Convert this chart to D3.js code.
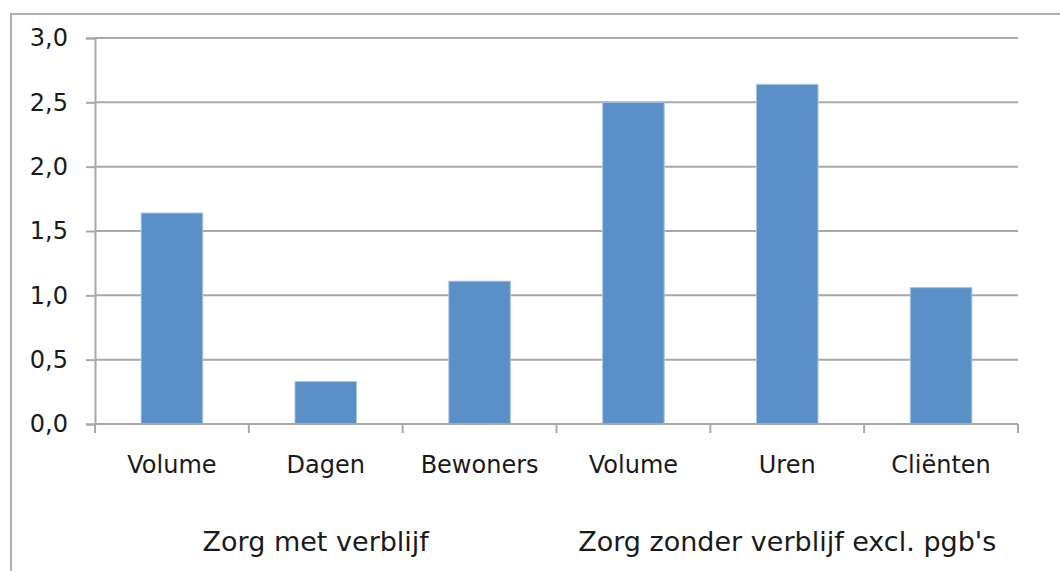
<!DOCTYPE html>
<html>
<head>
<meta charset="utf-8">
<script src="https://cdn.jsdelivr.net/npm/d3@7"></script>
<style>
  body { margin: 0; background: #fff; }
  text { font-family: "DejaVu Sans", Verdana, sans-serif; fill: #1a1a1a; }
</style>
</head>
<body>
<div id="graph"></div>
<script>
// data
const categories = ['Volume', 'Dagen', 'Bewoners', 'Volume', 'Uren', 'Cliënten']
const values = [1.64, 0.33, 1.11, 2.50, 2.64, 1.06]
const groups = ['Zorg met verblijf', "Zorg zonder verblijf excl. pgb's"]
const groupSizes = [3, 3]
const yTicks = [0, 0.5, 1, 1.5, 2, 2.5, 3]

const total_width = 1060
const total_height = 571
const margins = { top: 38, left: 95, right: 42, bottom: 147 }
const width = total_width - margins.left - margins.right
const height = total_height - margins.top - margins.bottom

const svg = d3.select('#graph').append('svg')
  .attr('width', total_width)
  .attr('height', total_height)

// outer frame
svg.append('rect')
  .attr('x', 11).attr('y', 14)
  .attr('width', 1070).attr('height', 600)
  .attr('fill', 'none')
  .attr('stroke', '#b0b0b0')
  .attr('stroke-width', 2)

const g = svg.append('g')
  .attr('transform', `translate(${margins.left}, ${margins.top})`)

const idx = categories.map((c, i) => i)
const x = d3.scaleBand().domain(idx).range([0, width]).paddingInner(0).paddingOuter(0)
const y = d3.scaleLinear().domain([0, 3]).range([height, 0])

const fmt = d => d3.format('.1f')(d).replace('.', ',')

// gridlines
g.append('g')
  .selectAll('line')
  .data(yTicks.slice(1))
  .enter()
  .append('line')
  .attr('x1', 0).attr('x2', width)
  .attr('y1', d => y(d)).attr('y2', d => y(d))
  .attr('stroke', '#a8a8a8')
  .attr('stroke-width', 2)

// y axis
const yAxis = g.append('g')
  .call(d3.axisLeft(y).tickValues(yTicks).tickFormat(fmt).tickSize(9).tickPadding(18))
yAxis.select('.domain').attr('stroke', '#a8a8a8').attr('stroke-width', 2)
yAxis.selectAll('.tick line').attr('stroke', '#a8a8a8').attr('stroke-width', 2)
yAxis.selectAll('.tick text').style('font-size', '24px').attr('fill', '#1a1a1a')

// bars
g.append('g')
  .selectAll('rect')
  .data(values)
  .enter()
  .append('rect')
  .attr('x', (d, i) => x(i) + x.bandwidth() * 0.3)
  .attr('width', x.bandwidth() * 0.4)
  .attr('y', d => y(d))
  .attr('height', d => y(0) - y(d))
  .attr('fill', '#5b8fc7')
  .attr('stroke', '#a9c4e3')
  .attr('stroke-width', 1)

// x axis with category boundary ticks
const xAxis = g.append('g').attr('transform', `translate(0, ${height})`)
xAxis.append('line')
  .attr('x1', 0).attr('x2', width)
  .attr('stroke', '#a8a8a8').attr('stroke-width', 2)
xAxis.selectAll('.bound')
  .data(d3.range(categories.length + 1))
  .enter()
  .append('line')
  .attr('class', 'bound')
  .attr('x1', i => i * x.bandwidth()).attr('x2', i => i * x.bandwidth())
  .attr('y1', 0).attr('y2', 9)
  .attr('stroke', '#a8a8a8').attr('stroke-width', 2)
xAxis.selectAll('.cat')
  .data(categories)
  .enter()
  .append('text')
  .attr('class', 'cat')
  .attr('x', (d, i) => x(i) + x.bandwidth() / 2)
  .attr('y', 49)
  .attr('text-anchor', 'middle')
  .style('font-size', '24px')
  .text(d => d)

// group labels
let start = 0
groups.forEach((name, k) => {
  const n = groupSizes[k]
  const cx = x(start) + (n * x.bandwidth()) / 2
  xAxis.append('text')
    .attr('x', k === 0 ? cx - 10 : cx)
    .attr('y', 127)
    .attr('text-anchor', 'middle')
    .style('font-size', '27px')
    .text(name)
  start += n
})
</script>
</body>
</html>
